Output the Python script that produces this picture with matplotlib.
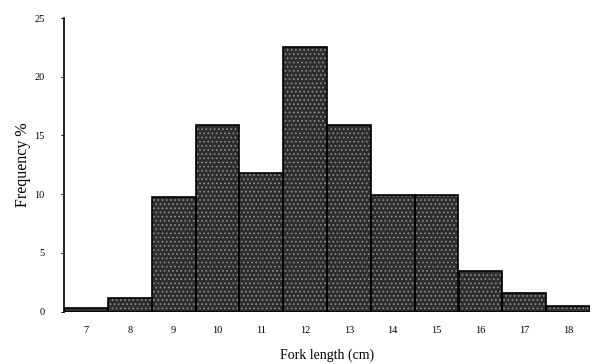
import matplotlib
matplotlib.use("Agg")
import matplotlib.pyplot as plt

lengths = [7, 8, 9, 10, 11, 12, 13, 14, 15, 16, 17, 18]
freq = [0.3, 1.2, 9.8, 15.9, 11.8, 22.5, 15.9, 9.9, 9.9, 3.5, 1.6, 0.5]
yticks = [0, 5, 10, 15, 20, 25]

plt.rcParams['font.family'] = ['Liberation Serif', 'DejaVu Serif']
plt.rcParams['hatch.linewidth'] = 0.7

fig = plt.figure(figsize=(5.96, 3.64), dpi=100)
ax = fig.add_axes([64/596, 1 - 311.7/364, (590-64)/596, (311.7-18)/364])

ax.bar(lengths, freq, width=1.0, color='#2e2e2e', edgecolor='#8f8f8f',
       hatch='....', linewidth=0)
ax.bar(lengths, freq, width=1.0, fill=False, edgecolor='black', linewidth=1.2)

ax.set_xlim(6.5, 18.5)
ax.set_ylim(0, 25)
ax.set_yticks(yticks)
ax.set_xticks(lengths)
ax.tick_params(axis='x', length=0, pad=10, labelsize=7.5)
ax.tick_params(axis='y', length=2, pad=12, labelsize=7.5)
for s in ['top', 'right', 'bottom']:
    ax.spines[s].set_visible(False)
ax.spines['left'].set_linewidth(1.2)

ax.set_ylabel('Frequency %', fontsize=11.5, labelpad=2)
ax.set_xlabel('Fork length (cm)', fontsize=10, labelpad=10)

fig.savefig('out.png', dpi=100)
